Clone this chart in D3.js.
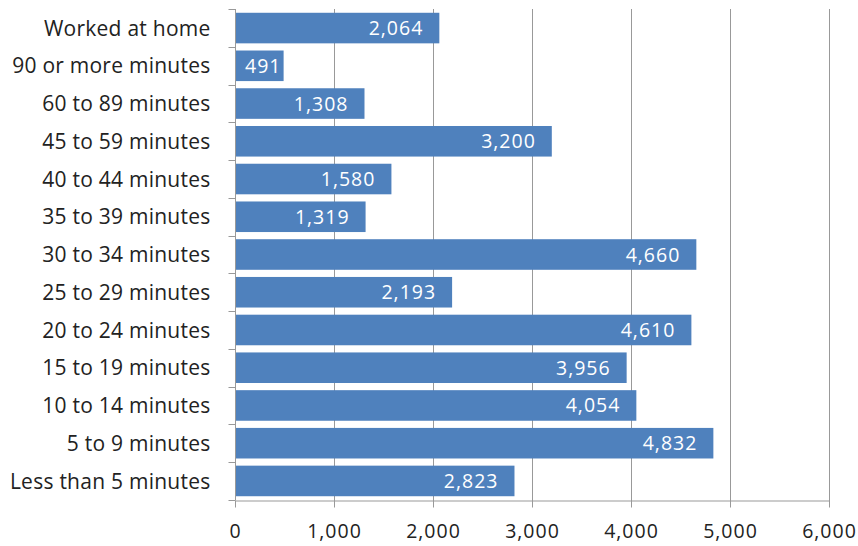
<!DOCTYPE html>
<html><head><meta charset="utf-8">
<script src="https://cdn.jsdelivr.net/npm/d3@7"></script>
<style>body{margin:0;background:#fff}svg{display:block}</style>
</head><body>
<svg id="c" width="858" height="546"></svg>
<script>
const categories = ["Worked at home","90 or more minutes","60 to 89 minutes","45 to 59 minutes","40 to 44 minutes","35 to 39 minutes","30 to 34 minutes","25 to 29 minutes","20 to 24 minutes","15 to 19 minutes","10 to 14 minutes","5 to 9 minutes","Less than 5 minutes"];
const values = [2064,491,1308,3200,1580,1319,4660,2193,4610,3956,4054,4832,2823];
const xTicks = [0,1000,2000,3000,4000,5000,6000];

const svg = d3.select("#c");
const font = "'Open Sans', sans-serif";
const x = d3.scaleLinear().domain([0,6000]).range([235,829]);
const y = d3.scaleBand().domain(categories).range([9,500]).paddingInner(0.19).paddingOuter(0.1);
const fmt = d3.format(",");

// gridlines
svg.append("g").selectAll("line").data(xTicks.slice(1)).join("line")
  .attr("x1",d=>x(d)+0.5).attr("x2",d=>x(d)+0.5).attr("y1",9).attr("y2",507)
  .attr("stroke","#999").attr("stroke-width",1);

// bars
svg.append("g").selectAll("rect").data(values).join("rect")
  .attr("x",x(0)).attr("y",(d,i)=>y(categories[i]))
  .attr("width",d=>x(d)-x(0)).attr("height",y.bandwidth())
  .attr("fill","#4F81BD");

// value labels
svg.append("g").selectAll("text").data(values).join("text")
  .attr("y",(d,i)=>y(categories[i])+y.bandwidth()/2)
  .attr("dy","0.36em").attr("text-anchor","end")
  .attr("fill","#fff").style("font-family",font).style("font-size","19.5px").style("letter-spacing","1px")
  .text(d=>fmt(d))
  .attr("x",function(d){
    const w = this.getComputedTextLength();
    return Math.max(x(d)-16, x(0)+10+w);
  });

// x axis
const xa = svg.append("g").attr("transform","translate(0,500.5)")
  .call(d3.axisBottom(x).tickValues(xTicks).tickFormat(fmt).tickSize(7).tickSizeOuter(0).tickPadding(17));
xa.select(".domain").attr("stroke","#999");
xa.selectAll(".tick line").attr("stroke","#999");
xa.selectAll("text").style("font-family",font).style("font-size","19.5px").style("letter-spacing","1px").attr("fill","#222");

// y axis
const ya = svg.append("g").attr("transform","translate(235.5,0)");
ya.append("line").attr("x1",0).attr("x2",0).attr("y1",9).attr("y2",500).attr("stroke","#999");
const edges = d3.range(14).map(i=>9+i*(491/13));
ya.selectAll("line.t").data(edges).join("line").attr("class","t")
  .attr("x1",-7).attr("x2",0).attr("y1",d=>Math.round(d)+0.5).attr("y2",d=>Math.round(d)+0.5).attr("stroke","#999");
ya.selectAll("text").data(categories).join("text")
  .attr("x",-25).attr("y",d=>y(d)+y.bandwidth()/2).attr("dy","0.36em").attr("text-anchor","end")
  .style("font-family",font).style("font-size","21px").style("letter-spacing","0.25px").attr("fill","#222")
  .text(d=>d);
</script>
</body></html>
